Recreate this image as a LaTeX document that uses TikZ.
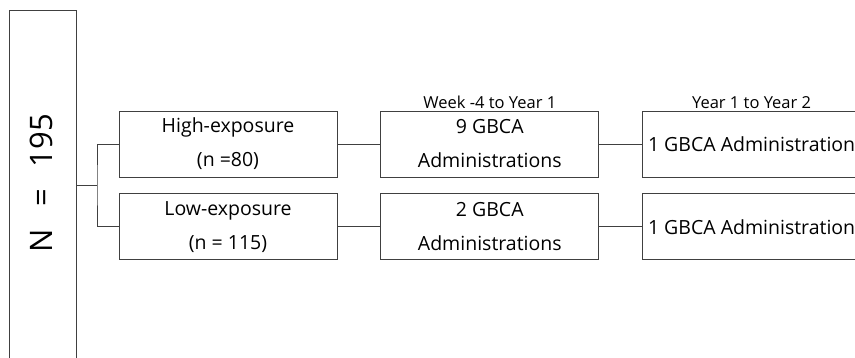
\documentclass[tikz,border=0pt]{standalone}
\usepackage{fontspec}
\setmainfont{Open Sans}
\usetikzlibrary{positioning}
\tikzset{>=latex}
\tikzstyle{every node}=[font=\fontsize{19.5}{34}\selectfont]
\tikzstyle{totalbox}=[draw=black!75,line width=0.8pt,minimum width=67pt,minimum height=365pt,inner sep=0pt]
\tikzstyle{groupbox}=[draw=black!75,line width=0.8pt,minimum width=218pt,minimum height=66pt,align=center,inner sep=0pt]
\tikzstyle{periodlabel}=[font=\fontsize{16.5}{18}\selectfont,anchor=south,inner sep=1.5pt]
\tikzstyle{link}=[draw=black!75,line width=0.8pt]

\begin{document}
\begin{tikzpicture}[x=1pt,y=1pt,node distance=43pt]
		\useasboundingbox (0,0) rectangle (855,-358);
		\clip (0,0) rectangle (855,-358);
		% whole cohort
		\node[totalbox] (total) at (42.5,-192.5) {};
		\node[rotate=90,font=\fontsize{31}{31}\selectfont] (count) at (41,-183) {N\hspace{14pt} =\hspace{14pt} 195};
		% exposure groups
		\node[groupbox] (high) at (228,-144) {High-exposure\\(n =80)};
		\node[groupbox] (low) [below=16pt of high] {Low-exposure\\(n = 115)};
		\node[groupbox] (gbcahigh) [right=of high] {9 GBCA\\Administrations};
		\node[groupbox] (gbcalow) [right=of low] {2 GBCA\\Administrations};
		\node[groupbox] (yearhigh) [right=of gbcahigh] {1 GBCA Administration};
		\node[groupbox] (yearlow) [right=of gbcalow] {1 GBCA Administration};
		\node[periodlabel] (week) [above=0pt of gbcahigh] {Week -4 to Year 1};
		\node[periodlabel] (year) [above=0pt of yearhigh] {Year 1 to Year 2};
		% connectors
		\coordinate (split) at (97,-185);
		\draw[link] (split -| total.east) -- (split);
		\draw[link] (high.west) -| (split) |- (low.west);
		\draw[link] (high) -- (gbcahigh) -- (yearhigh);
		\draw[link] (low) -- (gbcalow) -- (yearlow);
	\end{tikzpicture}
\end{document}
